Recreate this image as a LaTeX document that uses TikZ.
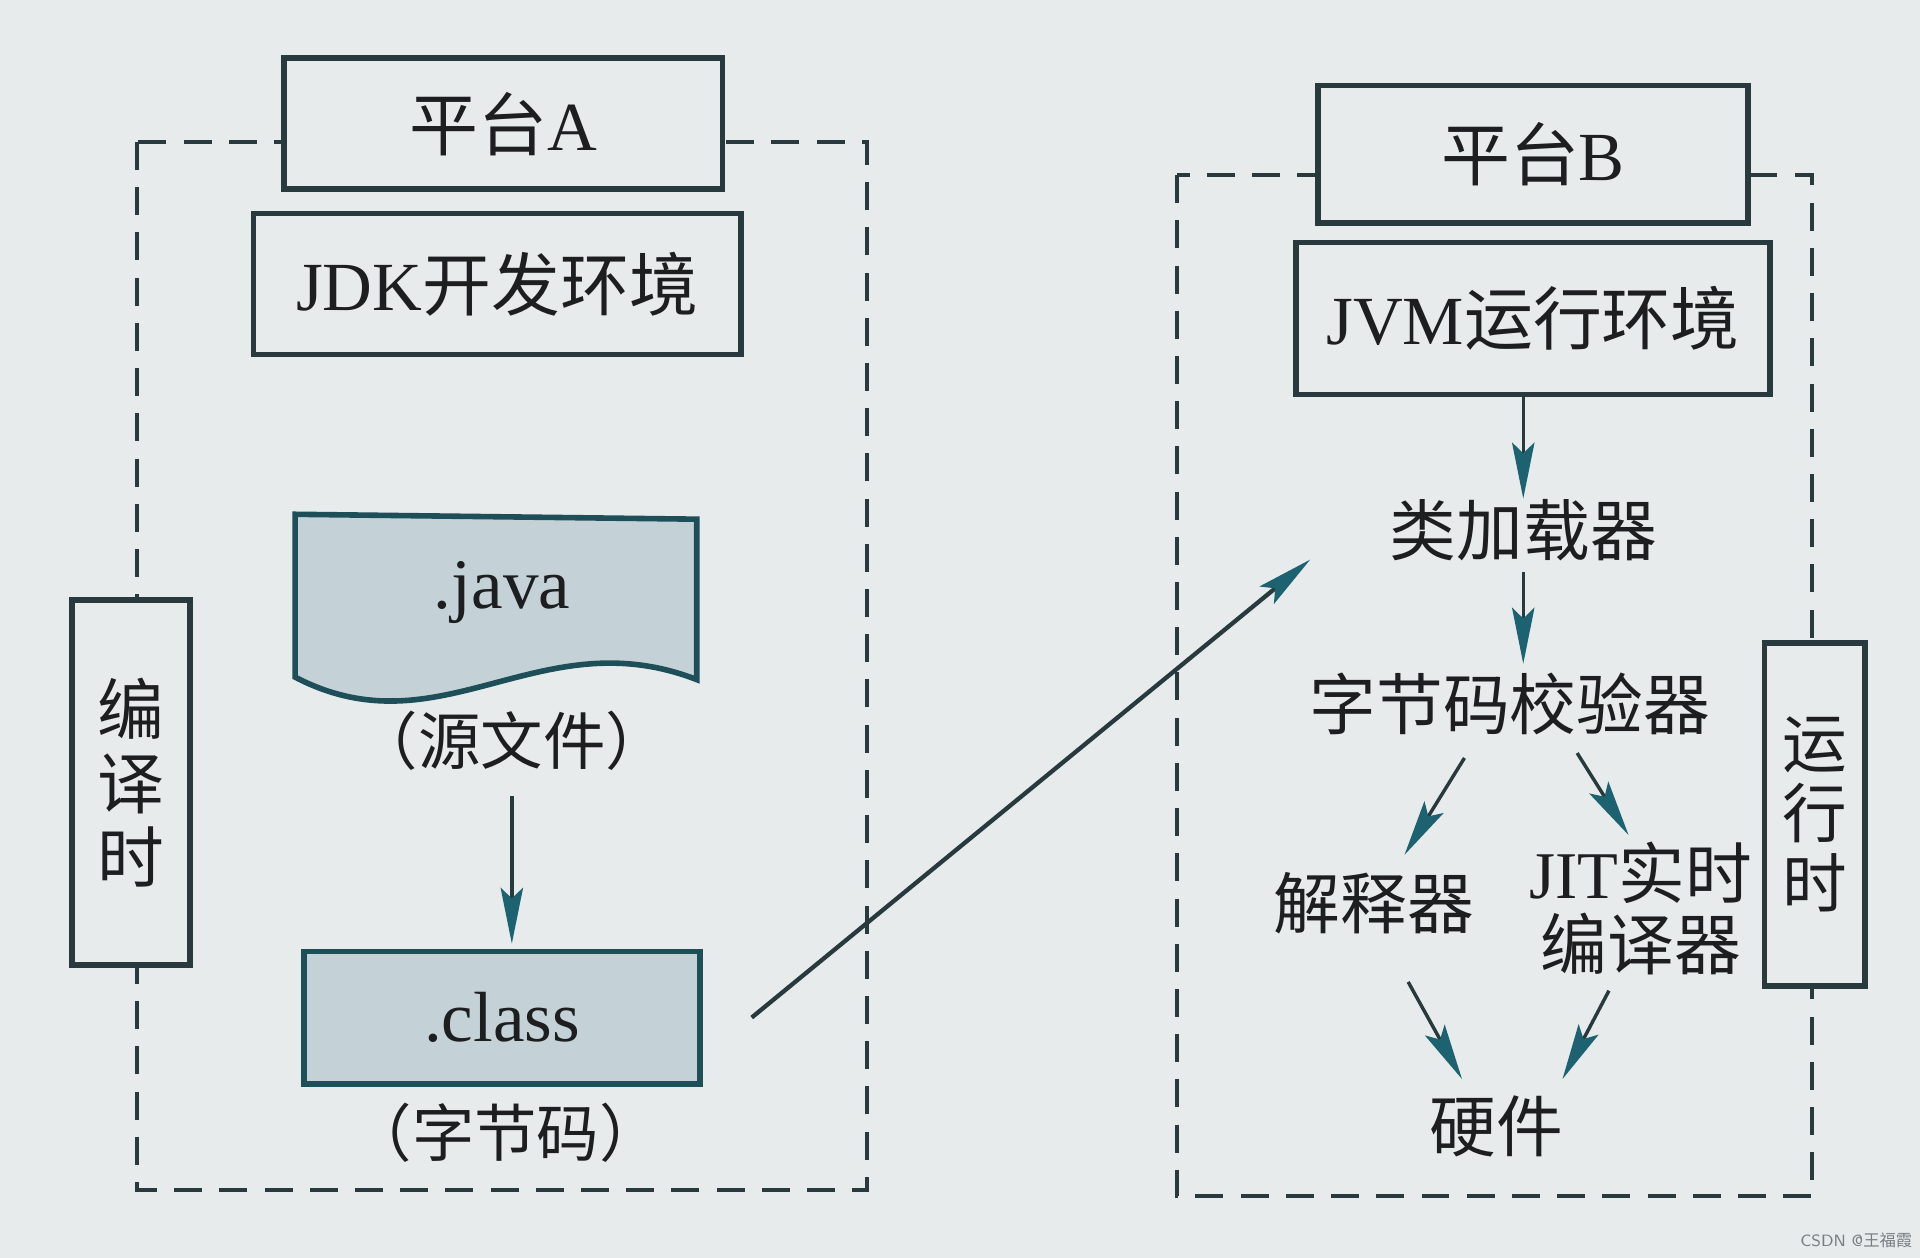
\documentclass[tikz,border=0pt]{standalone}
\usepackage{fontspec}
\setmainfont{Liberation Serif}
\newfontfamily\cjk{Noto Sans CJK SC}
\usetikzlibrary{arrows.meta}
\definecolor{paper}{RGB}{231,235,236}
\definecolor{ink}{RGB}{40,58,62}
\definecolor{txt}{RGB}{28,30,32}
\definecolor{tealtip}{RGB}{28,98,112}
\definecolor{filebg}{RGB}{196,210,216}
\definecolor{fileedge}{RGB}{30,78,88}
\definecolor{wmark}{RGB}{120,126,130}
\begin{document}
\begin{tikzpicture}[x=0.01cm,y=-0.01cm,
  box/.style={draw=ink, line width=1.3pt, fill=paper, text=txt, inner sep=0pt,
    font=\fontsize{16}{18}\selectfont},
  frame/.style={draw=ink, line width=0.9pt, dash pattern=on 6.5pt off 4pt},
  lbl/.style={text=txt, inner sep=0pt, font=\fontsize{15.5}{18}\selectfont\cjk},
  arr/.style={draw=ink, line width=0.8pt,
    -{Stealth[length=13pt,width=5.2pt,inset=2.5pt,color=tealtip]}},
]
\useasboundingbox[fill=paper] (0,0) rectangle (1568,1027);

% dashed frames
\draw[frame] (112,116) rectangle (708,972);
\draw[frame] (961,143) rectangle (1480,977);

% left side: platform A
\node[box, minimum width=3.58cm, minimum height=1.07cm] (pa) at (411,101) {{\cjk 平台}A};
\node[box, minimum width=3.98cm, minimum height=1.15cm] (jdk) at (406,232) {JDK{\cjk 开发环境}};
\node[box, minimum width=0.96cm, minimum height=2.98cm, align=center,
  font=\fontsize{15.5}{17.2}\selectfont\cjk] (comp) at (107,639) {编\\译\\时};

% .java source file shape
\draw[fill=filebg, draw=fileedge, line width=1.3pt]
  (241,420) -- (569,424) -- (569,555) .. controls (440,505) and (360,615) .. (241,553) -- cycle;
\node[inner sep=0pt, text=txt, font=\fontsize{16.5}{18}\selectfont] (java) at (410,484) {.java};
\node[lbl, font=\fontsize{14.5}{16}\selectfont\cjk] (src) at (418,605) {（源文件）};

\node[box, fill=filebg, draw=fileedge, minimum width=3.23cm, minimum height=1.08cm,
  font=\fontsize{16.5}{18}\selectfont] (cls) at (410,831) {.class};
\node[lbl, font=\fontsize{14.5}{16}\selectfont\cjk] (bc) at (413,925) {（字节码）};

\draw[arr, shorten <=0.2cm, shorten >=0.04cm] (src.south) -- (src.south |- cls.north);

% right side: platform B
\node[box, minimum width=3.51cm, minimum height=1.12cm] (pb) at (1252,126) {{\cjk 平台}B};
\node[box, minimum width=3.87cm, minimum height=1.24cm] (jvm) at (1252,260) {JVM{\cjk 运行环境}};
\node[box, minimum width=0.82cm, minimum height=2.80cm, align=center,
  font=\fontsize{15}{16.2}\selectfont\cjk] (run) at (1482,665) {运\\行\\时};

\node[lbl] (ldr) at (1244,433) {类加载器};
\node[lbl] (ver) at (1233,575) {字节码校验器};
\node[lbl] (int) at (1122,738) {解释器};
\node[lbl, align=center, font=\fontsize{15.5}{16.5}\selectfont\cjk] (jit) at (1340,742) {{\rmfamily JIT}实时\\编译器};
\node[lbl] (hw) at (1222,920) {硬件};

\draw[arr] (ldr.north |- jvm.south) -- (ldr.north);
\draw[arr, shorten <=0.08cm, shorten >=0.07cm] (ldr.south) -- (ldr.south |- ver.north);
\draw[arr] ([xshift=-0.37cm,yshift=-0.18cm]ver.south) -- ([xshift=0.25cm,yshift=0.14cm]int.north);
\draw[arr] ([xshift=0.55cm,yshift=-0.14cm]ver.south) -- ([xshift=-0.1cm,yshift=0.05cm]jit.north);
\draw[arr] ([xshift=0.28cm,yshift=-0.38cm]int.south) -- ([xshift=-0.28cm,yshift=0.13cm]hw.north);
\draw[arr] ([xshift=-0.26cm,yshift=-0.12cm]jit.south) -- ([xshift=0.54cm,yshift=0.13cm]hw.north);

% bytecode travels to platform B
\coordinate (bt) at (1070,457);
\draw[arr, line width=1pt] ([xshift=0.4cm]cls.east) -- (bt);

% watermark
\node[inner sep=0pt, text=wmark, font=\fontsize{3.8}{4}\selectfont\sffamily] (wm) at (1516,1013) {CSDN @{\cjk 王福霞}};
\end{tikzpicture}
\end{document}
